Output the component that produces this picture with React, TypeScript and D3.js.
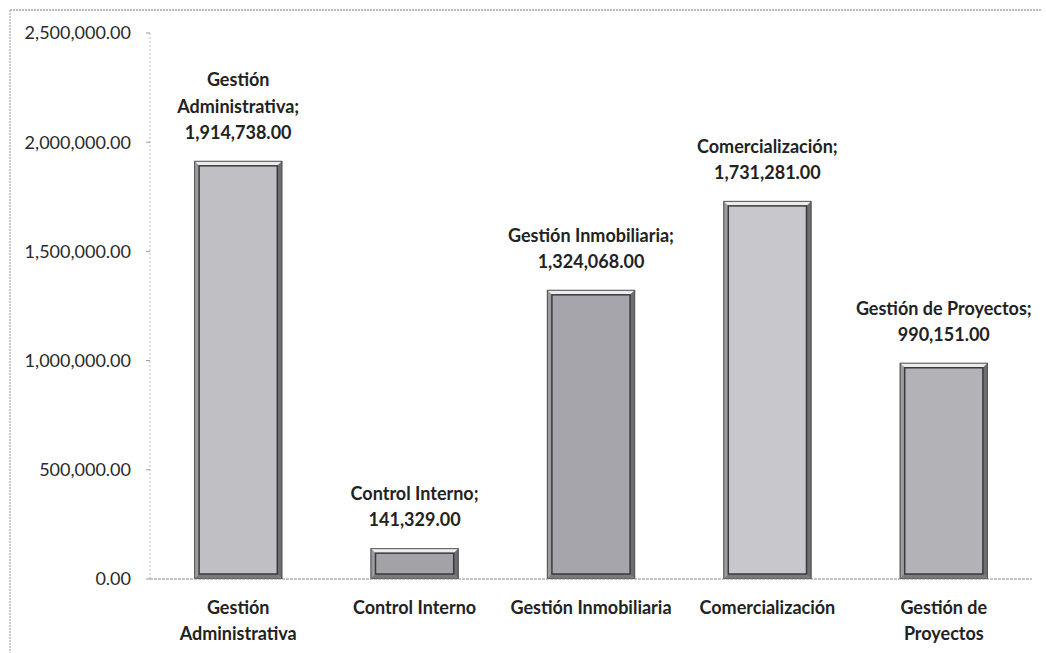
import React from 'react';
import { scaleBand, scaleLinear, format } from 'd3';

const categories = ['Gestión Administrativa', 'Control Interno', 'Gestión Inmobiliaria', 'Comercialización', 'Gestión de Proyectos'];
const values = [1914738, 141329, 1324068, 1731281, 990151];
const categoryLines = [['Gestión', 'Administrativa'], ['Control Interno'], ['Gestión Inmobiliaria'], ['Comercialización'], ['Gestión de', 'Proyectos']];
const labelNameLines = [['Gestión', 'Administrativa;'], ['Control Interno;'], ['Gestión Inmobiliaria;'], ['Comercialización;'], ['Gestión de Proyectos;']];
const yTicks = [0, 500000, 1000000, 1500000, 2000000, 2500000];

const barFills = ['#c0c0c4', '#a2a2a7', '#a5a5ab', '#c8c8cc', '#b2b2b7'];

const W = 1046;
const H = 653;
const fmt = format(',.2f');

function Bar({ x, y, w, h, fill }: { x: number; y: number; w: number; h: number; fill: string }) {
  const b = Math.min(5, h / 2);
  return (
    <g>
      <rect x={x} y={y} width={w} height={h} fill={fill} />
      <polygon points={`${x},${y} ${x + w},${y} ${x + w - b},${y + b} ${x + b},${y + b}`} fill="#ececec" />
      <polygon points={`${x},${y} ${x + b},${y + b} ${x + b},${y + h - b} ${x},${y + h}`} fill="#9c9ca0" />
      <polygon points={`${x + w},${y} ${x + w - b},${y + b} ${x + w - b},${y + h - b} ${x + w},${y + h}`} fill="#6e6e72" />
      <polygon points={`${x},${y + h} ${x + b},${y + h - b} ${x + w - b},${y + h - b} ${x + w},${y + h}`} fill="#7a7a7e" />
      <rect x={x + b} y={y + b} width={Math.max(0, w - 2 * b)} height={Math.max(0, h - 2 * b)} fill={fill} stroke="#3a3a3e" strokeWidth={1.5} />
      <rect x={x + 0.5} y={y + 0.5} width={w - 1} height={h - 1} fill="none" stroke="#555" strokeWidth={1} />
    </g>
  );
}

export default function App() {
  const left = 150;
  const right = 1032;
  const y0 = 579;
  const yTop = 33;

  const x = scaleBand<string>().domain(categories).range([left, right]).paddingInner(0.5).paddingOuter(0.25);
  const y = scaleLinear().domain([0, 2500000]).range([y0, yTop]);

  return (
    <svg width={W} height={H} style={{ position: 'absolute', left: 0, top: 0, background: '#fff' }}
      fontFamily="Lato, 'Open Sans', sans-serif">
      {/* chart frame */}
      <line x1={10} y1={10} x2={1041} y2={10} stroke="#777" strokeWidth={1} strokeDasharray="2,1" />
      <line x1={10} y1={10} x2={10} y2={H} stroke="#999" strokeWidth={1} strokeDasharray="2,1" />

      {/* y axis */}
      <line x1={left} y1={yTop} x2={left} y2={y0} stroke="#bbb" strokeWidth={1} strokeDasharray="2,2" />
      {yTicks.map(t => (
        <g key={t}>
          <line x1={left - 4} x2={left} y1={y(t)} y2={y(t)} stroke="#999" />
          <text x={131} y={y(t)} dy="0.35em" textAnchor="end" fontSize={18} fill="#2a2a2a">{fmt(t)}</text>
        </g>
      ))}

      {/* bars */}
      {categories.map((c, i) => {
        const bx = x(c)!;
        const by = y(values[i]);
        return <Bar key={c} x={bx} y={by} w={x.bandwidth()} h={y0 - by} fill={barFills[i]} />;
      })}

      {/* baseline */}
      <line x1={left} y1={y0} x2={right} y2={y0} stroke="#888" strokeWidth={1} strokeDasharray="3,1" />

      {/* data labels */}
      {categories.map((c, i) => {
        const cx = x(c)! + x.bandwidth() / 2;
        const lines = [...labelNameLines[i], fmt(values[i])];
        const last = y(values[i]) - 28;
        return (
          <text key={c} textAnchor="middle" fontSize={18} fontWeight="bold" fill="#222">
            {lines.map((l, j) => (
              <tspan key={j} x={cx} y={last - (lines.length - 1 - j) * 26.5} dy="0.35em">{l}</tspan>
            ))}
          </text>
        );
      })}

      {/* category labels */}
      {categories.map((c, i) => {
        const cx = x(c)! + x.bandwidth() / 2;
        return (
          <text key={c} textAnchor="middle" fontSize={18} fontWeight="bold" fill="#222">
            {categoryLines[i].map((l, j) => (
              <tspan key={j} x={cx} y={608 + j * 26} dy="0.35em">{l}</tspan>
            ))}
          </text>
        );
      })}
    </svg>
  );
}
